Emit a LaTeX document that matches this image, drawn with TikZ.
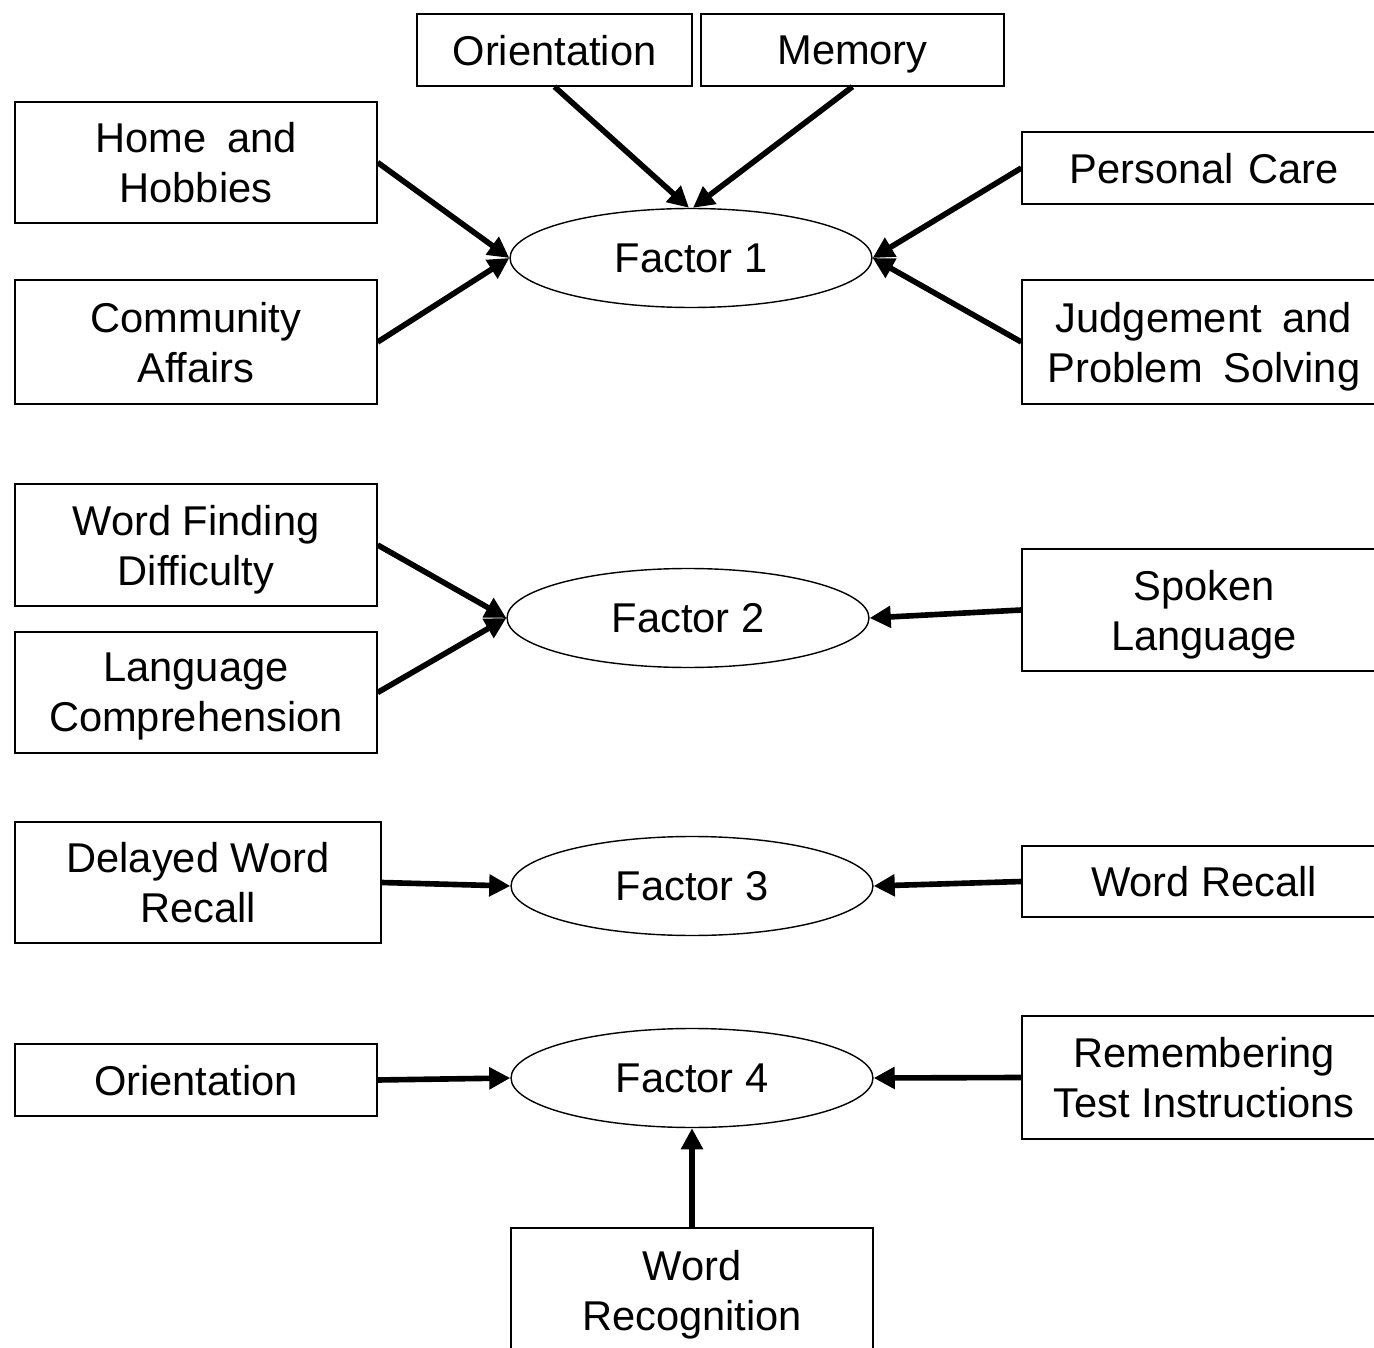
\documentclass[tikz,border=0pt]{standalone}
\usepackage{fontspec}
\setmainfont{Liberation Sans}
\usetikzlibrary{shapes.geometric,arrows.meta}

\tikzset{
    item/.style={draw, line width=0.8pt, align=center, inner sep=0pt, text depth=0pt,
        font=\fontsize{23.7}{28.5}\selectfont},
    factor/.style={ellipse, draw, line width=0.8pt, inner sep=0pt,
        minimum width=7.24cm, minimum height=1.98cm,
        font=\fontsize{23.7}{28.5}\selectfont},
    load/.style={line width=3.2pt, -{Triangle[length=12pt,width=12pt]}}
}

\begin{document}
\begin{tikzpicture}[x=0.02cm, y=-0.02cm]
                \useasboundingbox (0,0) rectangle (1374,1348);
                \clip (0,0) rectangle (1374,1348);

                \node[factor] (f1) at (691,258) {Factor 1};
                \node[factor] (f2) at (688,618) {Factor 2};
                \node[factor] (f3) at (692,886) {Factor 3};
                \node[factor] (f4) at (692,1078) {Factor 4};

                \node[item, minimum width=5.5cm, minimum height=1.44cm] (orient) at (554.5,50) {Orientation};
                \node[item, minimum width=6.06cm, minimum height=1.44cm] (memory) at (852.5,50) {Memory};
                \node[item, minimum width=7.24cm, minimum height=2.42cm] (home) at (196,162.5) {Home\hspace{0.5em}and\\Hobbies};
                \node[item, minimum width=7.24cm, minimum height=2.48cm] (community) at (196,342) {Community\\Affairs};
                \node[item, minimum width=7.28cm, minimum height=1.44cm] (care) at (1204,168) {Personal\hspace{0.35em}Care};
                \node[item, minimum width=7.28cm, minimum height=2.48cm] (judgement) at (1204,342) {Judgement\hspace{0.5em}and\\Problem\hspace{0.5em}Solving};

                \node[item, minimum width=7.24cm, minimum height=2.44cm] (finding) at (196,545) {Word Finding\\Difficulty};
                \node[item, minimum width=7.24cm, minimum height=2.42cm] (comprehension) at (196,692.5) {Language\\Comprehension};
                \node[item, minimum width=7.28cm, minimum height=2.44cm] (spoken) at (1204,610) {Spoken\\Language};

                \node[item, minimum width=7.32cm, minimum height=2.42cm] (delayed) at (198,882.5) {Delayed Word\\Recall};
                \node[item, minimum width=7.28cm, minimum height=1.42cm] (recall) at (1204,881.5) {Word Recall};

                \node[item, minimum width=7.24cm, minimum height=1.44cm] (orient2) at (196,1080) {Orientation};
                \node[item, minimum width=7.28cm, minimum height=2.46cm] (remember) at (1204,1077.5) {Remembering\\Test Instructions};
                \node[item, minimum width=7.24cm, minimum height=2.48cm] (recognition) at (692,1290) {Word\\Recognition};

                \draw[load] (orient.south) -- ([xshift=-0.04cm]f1.north);
                \draw[load] (memory.south) -- ([xshift=0.04cm]f1.north);
                \draw[load] (home.east) -- (f1.west);
                \draw[load] (community.east) -- (f1.west);
                \draw[load] (care.west) -- (f1.east);
                \draw[load] (judgement.west) -- (f1.east);

                \draw[load] (finding.east) -- (f2.west);
                \draw[load] (comprehension.east) -- (f2.west);
                \draw[load] (spoken.west) -- (f2.east);

                \draw[load] (delayed.east) -- (f3.west);
                \draw[load] (recall.west) -- (f3.east);

                \draw[load] (orient2.east) -- (f4.west);
                \draw[load] (remember.west) -- (f4.east);
                \draw[load] (recognition.north) -- (f4.south);
            \end{tikzpicture}
\end{document}
